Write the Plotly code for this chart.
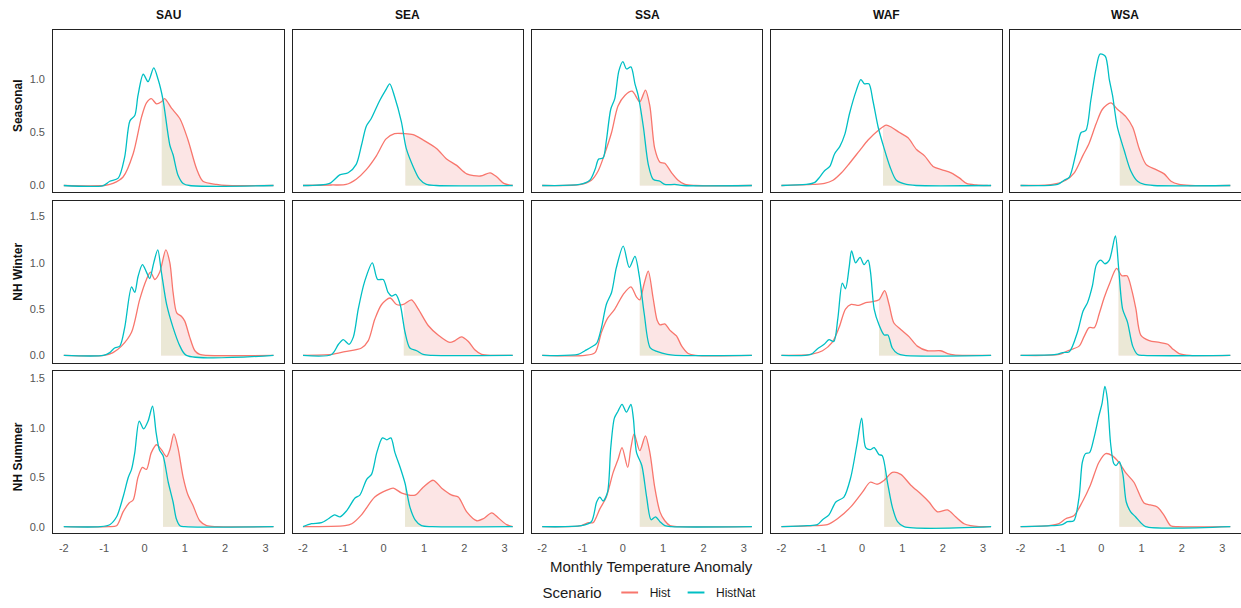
import numpy as np
import plotly.graph_objects as go

REGIONS = ["SAU", "SEA", "SSA", "WAF", "WSA"]
SEASONS = ["Seasonal", "NH Winter", "NH Summer"]
SCENARIOS = ["Hist", "HistNat"]
X_TICKS = [-2, -1, 0, 1, 2, 3]
X_TICK_LABELS = ["-2", "-1", "0", "1", "2", "3"]
Y_TICKS = [0.0, 0.5, 1.0, 1.5]

# thresholds (start of shaded area) per region, per season row
SAU_THR = [0.43, 0.41, 0.46]
SEA_THR = [0.54, 0.50, 0.53]
SSA_THR = [0.42, 0.42, 0.42]
WAF_THR = [0.52, 0.42, 0.55]
WSA_THR = [0.46, 0.43, 0.45]

# ---------------- SAU ----------------
SAU_SEAS_HIST_X = [-2.0, -1.0, -0.78, -0.53, -0.28, -0.07, 0.05, 0.17, 0.30, 0.42, 0.50, 0.67, 0.88, 1.08, 1.29, 1.45, 1.79, 2.03, 3.2]
SAU_SEAS_HIST_Y = [0, 0, 0.02, 0.08, 0.30, 0.65, 0.78, 0.82, 0.77, 0.79, 0.82, 0.73, 0.63, 0.43, 0.16, 0.04, 0.01, 0, 0]
SAU_SEAS_NAT_X = [-2.0, -1.02, -0.86, -0.65, -0.49, -0.36, -0.24, -0.16, -0.03, 0.09, 0.23, 0.34, 0.46, 0.63, 0.71, 0.83, 0.96, 1.12, 3.2]
SAU_SEAS_NAT_Y = [0, 0, 0.04, 0.07, 0.27, 0.61, 0.66, 0.85, 1.05, 0.98, 1.11, 1.00, 0.81, 0.38, 0.29, 0.10, 0.02, 0, 0]

SAU_WIN_HIST_X = [-2.0, -1.0, -0.78, -0.57, -0.32, -0.12, 0.05, 0.15, 0.26, 0.38, 0.53, 0.63, 0.71, 0.80, 0.92, 1.0, 1.12, 1.25, 1.37, 1.55, 3.2]
SAU_WIN_HIST_Y = [0, 0, 0.03, 0.10, 0.25, 0.60, 0.82, 0.90, 0.82, 0.90, 1.14, 1.00, 0.68, 0.46, 0.42, 0.37, 0.20, 0.05, 0.01, 0, 0]
SAU_WIN_NAT_X = [-2.0, -1.02, -0.86, -0.74, -0.61, -0.49, -0.32, -0.24, -0.16, -0.05, 0.05, 0.13, 0.23, 0.33, 0.42, 0.55, 0.71, 0.88, 1.04, 3.2]
SAU_WIN_NAT_Y = [0, 0, 0.03, 0.08, 0.10, 0.30, 0.74, 0.68, 0.85, 0.98, 0.90, 0.83, 1.00, 1.14, 0.90, 0.55, 0.30, 0.10, 0, 0]

SAU_SUM_HIST_X = [-2.0, -0.9, -0.69, -0.53, -0.38, -0.28, -0.16, -0.05, 0.05, 0.17, 0.30, 0.42, 0.55, 0.63, 0.73, 0.83, 0.96, 1.08, 1.20, 1.37, 1.54, 1.8, 3.2]
SAU_SUM_HIST_Y = [0, 0, 0.01, 0.15, 0.24, 0.27, 0.50, 0.60, 0.58, 0.75, 0.83, 0.78, 0.71, 0.78, 0.94, 0.80, 0.50, 0.32, 0.22, 0.06, 0.01, 0, 0]
SAU_SUM_NAT_X = [-2.0, -1.1, -0.86, -0.69, -0.53, -0.40, -0.32, -0.24, -0.13, -0.02, 0.09, 0.20, 0.29, 0.37, 0.46, 0.59, 0.71, 0.79, 0.88, 1.0, 3.2]
SAU_SUM_NAT_Y = [0, 0, 0.02, 0.10, 0.30, 0.50, 0.58, 0.75, 1.07, 0.99, 1.07, 1.22, 0.95, 0.78, 0.72, 0.45, 0.25, 0.08, 0.01, 0, 0]

# ---------------- SEA ----------------
SEA_SEAS_HIST_X = [-2.0, -1.3, -0.93, -0.68, -0.43, -0.18, 0.06, 0.27, 0.51, 0.73, 0.98, 1.31, 1.56, 1.81, 2.06, 2.40, 2.64, 2.81, 2.98, 3.2]
SEA_SEAS_HIST_Y = [0, 0.005, 0.01, 0.06, 0.15, 0.28, 0.44, 0.49, 0.49, 0.48, 0.43, 0.35, 0.25, 0.19, 0.11, 0.09, 0.12, 0.08, 0.02, 0]
SEA_SEAS_NAT_X = [-2.0, -1.34, -1.09, -0.88, -0.68, -0.55, -0.43, -0.31, -0.10, 0.05, 0.15, 0.27, 0.44, 0.56, 0.73, 0.89, 1.06, 1.3, 3.2]
SEA_SEAS_NAT_Y = [0, 0.02, 0.10, 0.12, 0.20, 0.38, 0.56, 0.63, 0.80, 0.90, 0.96, 0.84, 0.60, 0.35, 0.18, 0.06, 0.01, 0, 0]

SEA_WIN_HIST_X = [-2.0, -1.29, -0.96, -0.55, -0.38, -0.22, -0.05, 0.16, 0.32, 0.49, 0.69, 0.86, 1.11, 1.35, 1.64, 1.77, 1.93, 2.10, 2.26, 2.43, 2.7, 3.2]
SEA_WIN_HIST_Y = [0, 0.01, 0.04, 0.08, 0.16, 0.39, 0.55, 0.62, 0.55, 0.55, 0.60, 0.50, 0.32, 0.22, 0.14, 0.16, 0.20, 0.15, 0.06, 0.01, 0, 0]
SEA_WIN_NAT_X = [-2.0, -1.29, -1.12, -1.0, -0.86, -0.75, -0.63, -0.47, -0.28, -0.15, -0.01, 0.11, 0.20, 0.30, 0.41, 0.53, 0.65, 0.82, 0.98, 1.2, 3.2]
SEA_WIN_NAT_Y = [0, 0.01, 0.12, 0.17, 0.12, 0.20, 0.50, 0.80, 1.00, 0.82, 0.82, 0.68, 0.64, 0.66, 0.55, 0.25, 0.08, 0.05, 0.01, 0, 0]

SEA_SUM_HIST_X = [-2.0, -0.96, -0.79, -0.55, -0.22, 0.08, 0.24, 0.45, 0.78, 0.98, 1.23, 1.44, 1.69, 1.85, 2.06, 2.31, 2.47, 2.68, 2.84, 3.05, 3.2]
SEA_SUM_HIST_Y = [0, 0.01, 0.03, 0.12, 0.30, 0.37, 0.39, 0.34, 0.32, 0.40, 0.47, 0.39, 0.32, 0.30, 0.15, 0.06, 0.08, 0.14, 0.09, 0.02, 0]
SEA_SUM_NAT_X = [-2.0, -1.79, -1.54, -1.37, -1.22, -1.08, -0.92, -0.71, -0.59, -0.42, -0.30, -0.17, -0.03, 0.08, 0.18, 0.28, 0.41, 0.53, 0.65, 0.78, 0.94, 1.2, 3.2]
SEA_SUM_NAT_Y = [0, 0.03, 0.04, 0.08, 0.12, 0.10, 0.16, 0.29, 0.32, 0.48, 0.53, 0.75, 0.90, 0.88, 0.90, 0.75, 0.60, 0.44, 0.20, 0.07, 0.01, 0, 0]

# ---------------- SSA ----------------
SSA_SEAS_HIST_X = [-2.0, -1.03, -0.78, -0.61, -0.45, -0.28, -0.12, 0.05, 0.23, 0.42, 0.56, 0.67, 0.79, 0.92, 1.04, 1.21, 1.37, 1.54, 1.8, 3.2]
SSA_SEAS_HIST_Y = [0, 0.01, 0.05, 0.14, 0.30, 0.50, 0.75, 0.85, 0.89, 0.79, 0.90, 0.75, 0.35, 0.22, 0.21, 0.12, 0.05, 0.01, 0, 0]
SSA_SEAS_NAT_X = [-2.0, -1.07, -0.82, -0.69, -0.60, -0.49, -0.41, -0.30, -0.20, -0.10, 0.0, 0.09, 0.20, 0.30, 0.38, 0.51, 0.63, 0.75, 0.92, 1.04, 1.29, 1.5, 3.2]
SSA_SEAS_NAT_Y = [0, 0.01, 0.05, 0.15, 0.25, 0.26, 0.42, 0.72, 0.82, 1.08, 1.17, 1.10, 1.12, 0.96, 0.85, 0.55, 0.20, 0.06, 0.04, 0.01, 0.01, 0, 0]

SSA_WIN_HIST_X = [-2.0, -0.94, -0.69, -0.53, -0.38, -0.20, 0.01, 0.20, 0.34, 0.42, 0.53, 0.63, 0.75, 0.85, 0.92, 1.04, 1.17, 1.33, 1.46, 1.62, 1.8, 3.2]
SSA_WIN_HIST_Y = [0, 0, 0.03, 0.25, 0.40, 0.50, 0.66, 0.74, 0.63, 0.60, 0.78, 0.91, 0.62, 0.38, 0.33, 0.34, 0.27, 0.21, 0.10, 0.02, 0, 0]
SSA_WIN_NAT_X = [-2.0, -1.11, -0.94, -0.78, -0.65, -0.53, -0.41, -0.28, -0.16, 0.01, 0.16, 0.30, 0.41, 0.53, 0.68, 0.86, 1.10, 1.3, 3.2]
SSA_WIN_NAT_Y = [0, 0.01, 0.05, 0.09, 0.13, 0.30, 0.55, 0.68, 0.95, 1.18, 0.95, 1.07, 0.85, 0.45, 0.08, 0.04, 0.01, 0, 0]

SSA_SUM_HIST_X = [-2.0, -1.03, -0.86, -0.74, -0.57, -0.41, -0.24, -0.12, -0.02, 0.12, 0.20, 0.28, 0.42, 0.56, 0.67, 0.79, 0.92, 1.04, 1.17, 1.4, 3.2]
SSA_SUM_HIST_Y = [0, 0.01, 0.04, 0.04, 0.18, 0.30, 0.55, 0.68, 0.80, 0.60, 0.80, 0.94, 0.77, 0.92, 0.75, 0.40, 0.15, 0.06, 0.01, 0, 0]
SSA_SUM_NAT_X = [-2.0, -1.03, -0.78, -0.65, -0.57, -0.49, -0.38, -0.30, -0.21, -0.12, -0.02, 0.09, 0.20, 0.26, 0.34, 0.47, 0.59, 0.70, 0.81, 0.92, 1.04, 1.2, 3.2]
SSA_SUM_NAT_Y = [0, 0.01, 0.05, 0.25, 0.30, 0.26, 0.35, 0.80, 1.10, 1.17, 1.24, 1.16, 1.24, 1.10, 0.75, 0.62, 0.30, 0.07, 0.10, 0.05, 0.01, 0, 0]

# ---------------- WAF ----------------
WAF_SEAS_HIST_X = [-2.0, -1.22, -0.93, -0.72, -0.51, -0.31, -0.06, 0.15, 0.40, 0.60, 0.73, 0.93, 1.14, 1.35, 1.55, 1.76, 1.97, 2.21, 2.42, 2.59, 2.83, 3.1, 3.2]
WAF_SEAS_HIST_Y = [0, 0.01, 0.02, 0.05, 0.12, 0.21, 0.33, 0.43, 0.52, 0.57, 0.55, 0.50, 0.45, 0.34, 0.28, 0.18, 0.15, 0.12, 0.07, 0.02, 0.005, 0, 0]
WAF_SEAS_NAT_X = [-2.0, -1.38, -1.17, -1.05, -0.93, -0.80, -0.68, -0.55, -0.43, -0.31, -0.14, -0.03, 0.06, 0.17, 0.27, 0.40, 0.54, 0.69, 0.85, 1.10, 1.35, 3.2]
WAF_SEAS_NAT_Y = [0, 0.01, 0.03, 0.08, 0.14, 0.18, 0.30, 0.37, 0.48, 0.68, 0.90, 1.00, 0.96, 0.96, 0.80, 0.55, 0.36, 0.18, 0.05, 0.01, 0, 0]

WAF_WIN_HIST_X = [-2.0, -1.27, -0.98, -0.74, -0.57, -0.41, -0.27, -0.08, 0.09, 0.26, 0.42, 0.56, 0.67, 0.79, 0.96, 1.17, 1.37, 1.62, 1.95, 2.12, 2.28, 2.5, 3.2]
WAF_WIN_HIST_Y = [0, 0.01, 0.05, 0.14, 0.30, 0.50, 0.55, 0.54, 0.57, 0.58, 0.60, 0.70, 0.55, 0.35, 0.28, 0.20, 0.10, 0.05, 0.05, 0.02, 0.005, 0, 0]
WAF_WIN_NAT_X = [-2.0, -1.27, -1.11, -0.94, -0.82, -0.70, -0.60, -0.49, -0.41, -0.32, -0.26, -0.16, -0.05, 0.05, 0.15, 0.21, 0.30, 0.42, 0.55, 0.64, 0.75, 0.88, 1.05, 3.2]
WAF_WIN_NAT_Y = [0, 0.01, 0.07, 0.12, 0.17, 0.15, 0.40, 0.78, 0.72, 0.95, 1.13, 1.00, 1.06, 0.98, 1.03, 0.90, 0.50, 0.33, 0.22, 0.22, 0.08, 0.02, 0, 0]

WAF_SUM_HIST_X = [-2.0, -1.19, -0.86, -0.61, -0.28, 0.01, 0.20, 0.38, 0.55, 0.75, 0.96, 1.21, 1.46, 1.66, 1.87, 2.12, 2.32, 2.53, 2.69, 2.9, 3.2]
WAF_SUM_HIST_Y = [0, 0.01, 0.02, 0.08, 0.20, 0.35, 0.45, 0.43, 0.47, 0.55, 0.53, 0.42, 0.33, 0.25, 0.15, 0.17, 0.10, 0.03, 0.01, 0, 0]
WAF_SUM_NAT_X = [-2.0, -1.36, -1.11, -0.98, -0.82, -0.65, -0.45, -0.28, -0.12, -0.01, 0.09, 0.20, 0.30, 0.42, 0.50, 0.63, 0.75, 0.88, 1.04, 3.2]
WAF_SUM_NAT_Y = [0, 0.01, 0.02, 0.07, 0.12, 0.25, 0.30, 0.50, 0.85, 1.10, 0.80, 0.78, 0.80, 0.73, 0.72, 0.45, 0.20, 0.05, 0, 0]

# ---------------- WSA ----------------
WSA_SEAS_HIST_X = [-2.0, -1.21, -0.88, -0.67, -0.46, -0.30, -0.13, 0.03, 0.24, 0.40, 0.61, 0.78, 0.94, 1.11, 1.36, 1.56, 1.73, 1.93, 2.2, 3.2]
WSA_SEAS_HIST_Y = [0, 0.01, 0.05, 0.12, 0.28, 0.40, 0.58, 0.72, 0.78, 0.72, 0.65, 0.55, 0.35, 0.20, 0.15, 0.11, 0.04, 0.01, 0, 0]
WSA_SEAS_NAT_X = [-2.0, -1.08, -0.92, -0.79, -0.63, -0.50, -0.38, -0.26, -0.13, -0.03, 0.10, 0.20, 0.28, 0.40, 0.57, 0.73, 0.90, 1.07, 1.3, 3.2]
WSA_SEAS_NAT_Y = [0, 0.01, 0.05, 0.08, 0.30, 0.50, 0.52, 0.80, 1.10, 1.24, 1.22, 1.00, 0.85, 0.55, 0.33, 0.14, 0.04, 0.01, 0, 0]

WSA_WIN_HIST_X = [-2.0, -1.04, -0.83, -0.55, -0.43, -0.30, -0.17, -0.05, 0.07, 0.21, 0.38, 0.51, 0.64, 0.76, 0.86, 0.98, 1.19, 1.44, 1.65, 1.77, 1.93, 2.2, 3.2]
WSA_WIN_HIST_Y = [0, 0.01, 0.05, 0.10, 0.20, 0.30, 0.30, 0.45, 0.62, 0.78, 0.94, 0.86, 0.86, 0.70, 0.50, 0.22, 0.16, 0.14, 0.12, 0.07, 0.02, 0, 0]
WSA_WIN_NAT_X = [-2.0, -1.12, -0.96, -0.79, -0.59, -0.45, -0.34, -0.22, -0.12, -0.01, 0.09, 0.20, 0.35, 0.43, 0.53, 0.65, 0.78, 0.90, 1.05, 3.2]
WSA_WIN_NAT_Y = [0, 0.01, 0.03, 0.04, 0.25, 0.48, 0.57, 0.75, 0.98, 1.03, 0.99, 1.03, 1.29, 0.95, 0.50, 0.36, 0.10, 0.01, 0, 0]

WSA_SUM_HIST_X = [-2.0, -1.30, -1.05, -0.88, -0.68, -0.47, -0.27, -0.06, 0.11, 0.27, 0.44, 0.60, 0.81, 1.06, 1.22, 1.39, 1.55, 1.72, 1.9, 3.2]
WSA_SUM_HIST_Y = [0, 0.01, 0.03, 0.08, 0.11, 0.25, 0.42, 0.65, 0.74, 0.72, 0.65, 0.55, 0.45, 0.24, 0.22, 0.20, 0.12, 0.01, 0, 0]
WSA_SUM_NAT_X = [-2.0, -1.22, -0.97, -0.84, -0.68, -0.55, -0.47, -0.39, -0.29, -0.18, -0.06, 0.02, 0.09, 0.15, 0.23, 0.31, 0.37, 0.45, 0.54, 0.62, 0.73, 0.85, 0.98, 1.1, 3.2]
WSA_SUM_NAT_Y = [0, 0.01, 0.02, 0.05, 0.06, 0.30, 0.65, 0.74, 0.75, 0.90, 1.12, 1.25, 1.42, 1.30, 0.85, 0.64, 0.62, 0.66, 0.52, 0.25, 0.15, 0.10, 0.04, 0, 0]

g = globals()
SEASON_KEYS = ["SEAS", "WIN", "SUM"]

def curve(region, si, scen):
    tag = "HIST" if scen == "Hist" else "NAT"
    key = f"{region}_{SEASON_KEYS[si]}_{tag}"
    return g[key + "_X"], g[key + "_Y"]

THRESHOLDS = {"SAU": SAU_THR, "SEA": SEA_THR, "SSA": SSA_THR, "WAF": WAF_THR, "WSA": WSA_THR}

# ---------------- styling / layout ----------------
W, H = 1241, 608
COLORS = {"Hist": "#F8766D", "HistNat": "#00BFC4"}
FILLS = {"Hist": "rgb(252,229,229)", "HistNat": "rgb(235,232,214)"}
FONT = "Liberation Sans, Arial, Helvetica, sans-serif"
col_left = [53.3, 292.5, 531.7, 770.9, 1010.1]
col_w = 230.7
row_top = [30.0, 202.3, 374.0]
row_bot = [194.0, 365.7, 537.3]
y_ranges = [[-0.065, 1.47], [-0.079, 1.672], [-0.063, 1.578]]
x_range = [-2.26, 3.46]

fig = go.Figure()
layout = {}

for r, season in enumerate(SEASONS):
    for c, region in enumerate(REGIONS):
        k = r * 5 + c + 1
        xa = "x" if k == 1 else f"x{k}"
        ya = "y" if k == 1 else f"y{k}"
        thr = THRESHOLDS[region][r]
        # shaded areas beyond threshold
        for scen in SCENARIOS:
            X, Y = curve(region, r, scen)
            X = np.array(X, dtype=float); Y = np.array(Y, dtype=float)
            m = X > thr
            xs = np.concatenate([[thr], X[m]])
            ys = np.concatenate([[np.interp(thr, X, Y)], Y[m]])
            fig.add_trace(go.Scatter(x=xs, y=ys, mode="lines", line=dict(width=0, shape="spline", smoothing=0.8),
                                     fill="tozeroy", fillcolor=FILLS[scen], showlegend=False,
                                     hoverinfo="skip", xaxis=xa, yaxis=ya))
        for scen in SCENARIOS:
            X, Y = curve(region, r, scen)
            fig.add_trace(go.Scatter(x=X, y=Y, mode="lines",
                                     line=dict(color=COLORS[scen], width=1.3, shape="spline", smoothing=0.8),
                                     showlegend=False, name=scen, xaxis=xa, yaxis=ya))
        xd = [col_left[c] / W, (col_left[c] + col_w) / W]
        yd = [1 - row_bot[r] / H, 1 - row_top[r] / H]
        common = dict(showgrid=False, zeroline=False, showline=True, mirror=True,
                      linecolor="#222222", linewidth=1.3, ticks="", automargin=False,
                      tickfont=dict(family=FONT, size=11, color="#555555"))
        layout["xaxis" if k == 1 else f"xaxis{k}"] = dict(
            domain=xd, anchor=ya, range=x_range, tickvals=X_TICKS, ticktext=X_TICK_LABELS,
            showticklabels=(r == 2), ticklabelstandoff=5, **common)
        layout["yaxis" if k == 1 else f"yaxis{k}"] = dict(
            domain=yd, anchor=xa, range=y_ranges[r], tickvals=Y_TICKS,
            ticktext=[f"{v:.1f}" for v in Y_TICKS], showticklabels=(c == 0),
            ticklabelstandoff=5, **common)

# legend entries
for scen in SCENARIOS:
    fig.add_trace(go.Scatter(x=[None], y=[None], mode="markers", name=scen,
                             marker=dict(symbol="line-ew", size=12, line=dict(color=COLORS[scen], width=2)),
                             showlegend=True))

annotations = []
for c, region in enumerate(REGIONS):
    annotations.append(dict(text=f"<b>{region}</b>", x=(col_left[c] + col_w / 2) / W, y=1 - 15 / H,
                            xref="paper", yref="paper", showarrow=False, xanchor="center", yanchor="middle",
                            font=dict(family=FONT, size=12, color="#111111")))
row_label_y = [107, 274, 461]
for r, season in enumerate(SEASONS):
    annotations.append(dict(text=f"<b>{season}</b>", x=18 / W, y=1 - row_label_y[r] / H,
                            xref="paper", yref="paper", showarrow=False, textangle=-90,
                            xanchor="center", yanchor="middle",
                            font=dict(family=FONT, size=12, color="#111111")))
annotations.append(dict(text="Monthly Temperature Anomaly", x=651 / W, y=1 - 571 / H,
                        xref="paper", yref="paper", showarrow=False, xanchor="center", yanchor="middle",
                        font=dict(family=FONT, size=15, color="#1a1a1a")))

fig.update_layout(
    width=W, height=H, margin=dict(l=0, r=0, t=0, b=0),
    paper_bgcolor="white", plot_bgcolor="white",
    annotations=annotations,
    legend=dict(orientation="h", x=651 / W, xanchor="center", y=1 - 598 / H, yanchor="middle",
                title=dict(text="Scenario", side="left", font=dict(family=FONT, size=15, color="#1a1a1a")),
                font=dict(family=FONT, size=12, color="#1a1a1a"), itemwidth=30,
                bgcolor="rgba(0,0,0,0)"),
    **layout,
)

fig.write_html("out.html")
